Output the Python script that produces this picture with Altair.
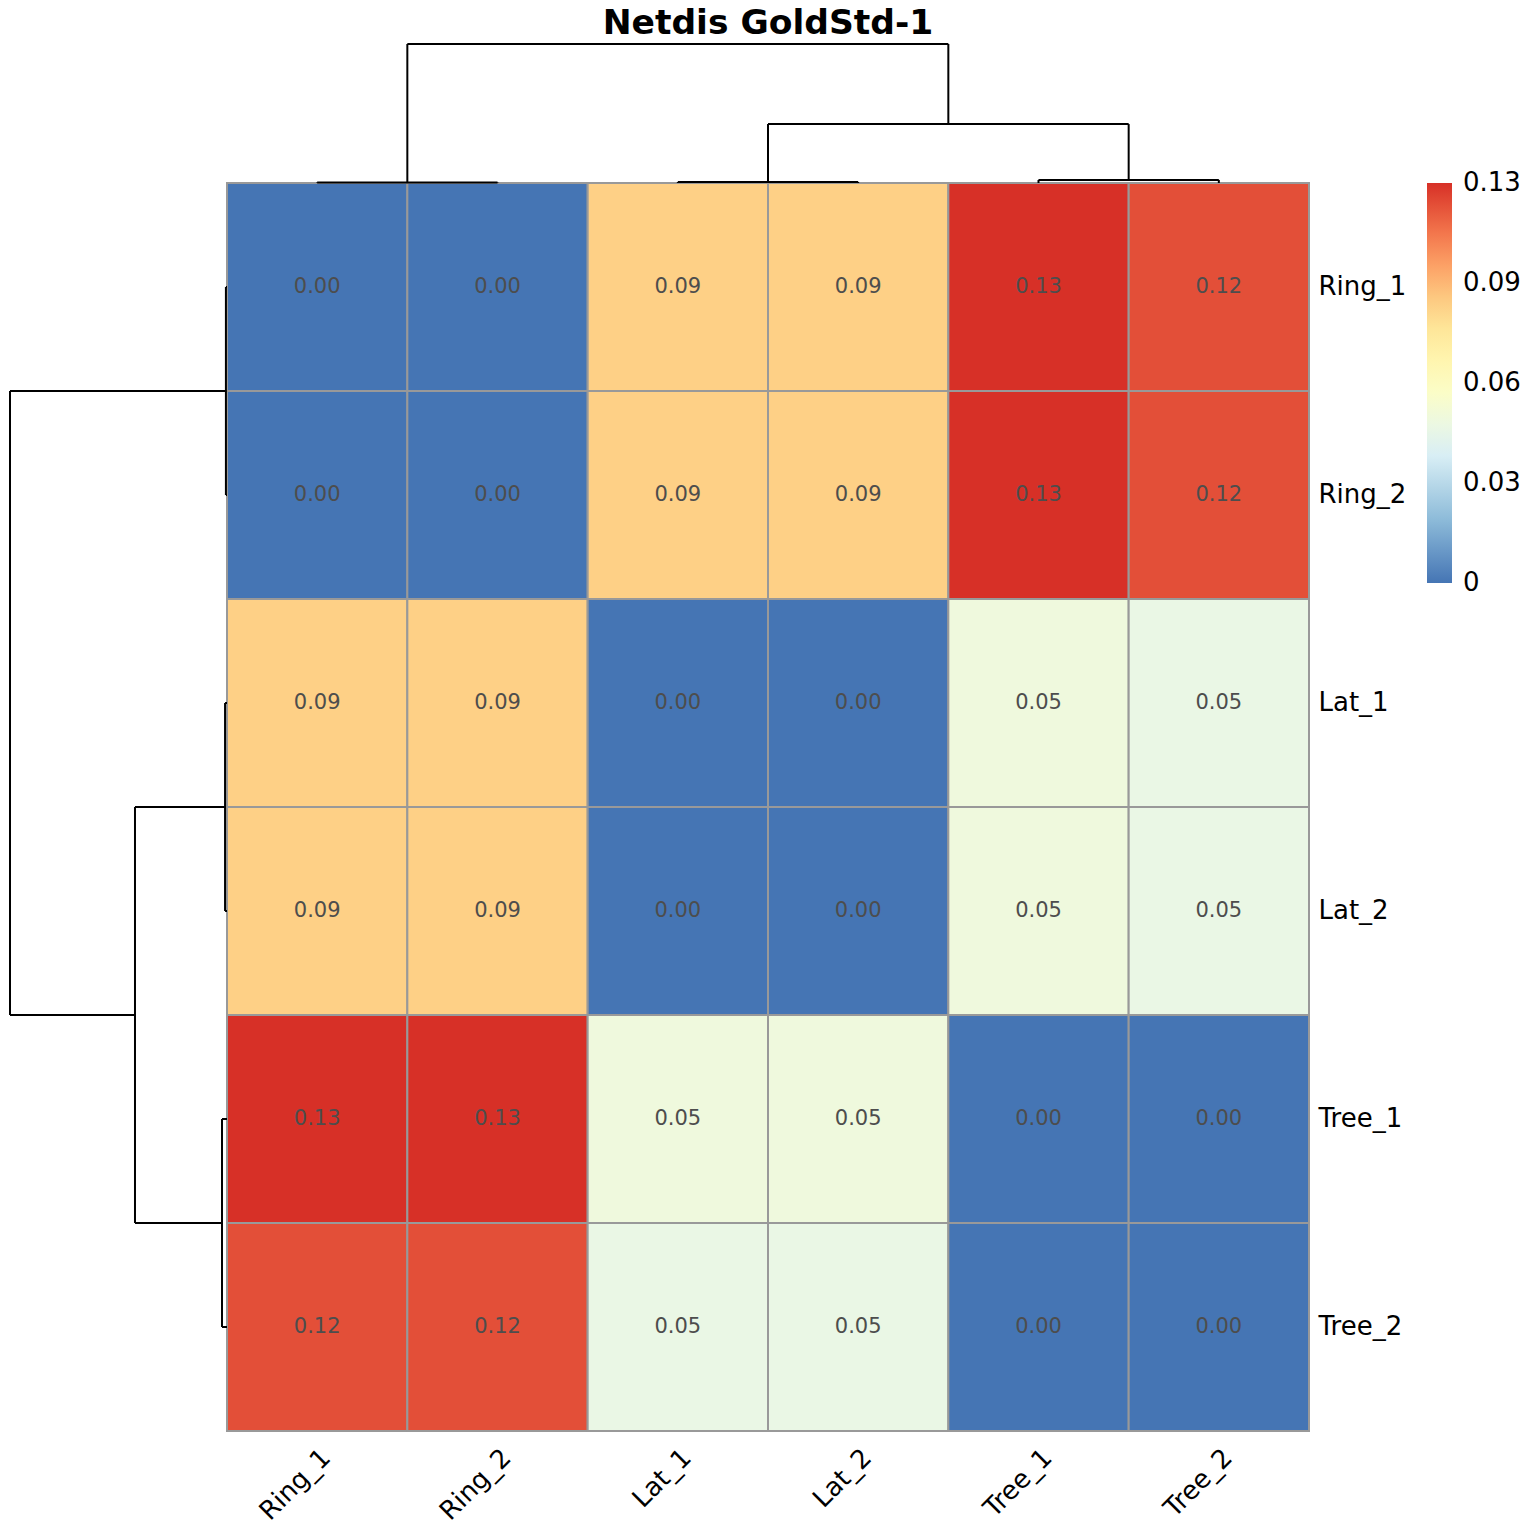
import altair as alt
import pandas as pd

LABELS = ["Ring_1", "Ring_2", "Lat_1", "Lat_2", "Tree_1", "Tree_2"]

ROW_RING_1 = [0.0, 0.0, 0.088, 0.088, 0.126, 0.119]
ROW_RING_2 = [0.0, 0.0, 0.088, 0.088, 0.126, 0.119]
ROW_LAT_1 = [0.088, 0.088, 0.0, 0.0, 0.052, 0.049]
ROW_LAT_2 = [0.088, 0.088, 0.0, 0.0, 0.052, 0.049]
ROW_TREE_1 = [0.126, 0.126, 0.052, 0.052, 0.0, 0.0]
ROW_TREE_2 = [0.119, 0.119, 0.049, 0.049, 0.0, 0.0]
ROWS = [ROW_RING_1, ROW_RING_2, ROW_LAT_1, ROW_LAT_2, ROW_TREE_1, ROW_TREE_2]

# hclust-style merges (negative = leaf index, positive = earlier merge step)
MERGE = [(-1, -2), (-3, -4), (-5, -6), (2, 3), (1, 4)]
COL_HEIGHTS = [0.004, 0.007, 0.022, 0.424, 1.0]
ROW_HEIGHTS = [0.005, 0.009, 0.023, 0.424, 1.0]

LEGEND_TICKS = [0.0, 0.0315, 0.063, 0.0945, 0.126]
LEGEND_LABELS = ["0", "0.03", "0.06", "0.09", "0.13"]
PALETTE = ["#4575B4", "#91BFDB", "#E0F3F8", "#FFFFBF", "#FEE090", "#FC8D59", "#D73027"]

FONT = "DejaVu Sans"
W, H = 1082, 1248
TOP_DENDRO_PX = 139
LEFT_DENDRO_PX = 217
LEGEND_X = 1200
LEGEND_LEN = 400


def dendro_segments(merge, heights):
    pos, hts, segs = {}, {}, []

    def get(ref):
        if ref < 0:
            return (-ref - 1) + 0.5, 0.0
        return pos[ref], hts[ref]

    for k, ((a, b), h) in enumerate(zip(merge, heights), start=1):
        pa, ha = get(a)
        pb, hb = get(b)
        segs.append(dict(p1=pa, p2=pa, h1=ha, h2=h))
        segs.append(dict(p1=pa, p2=pb, h1=h, h2=h))
        segs.append(dict(p1=pb, p2=pb, h1=hb, h2=h))
        pos[k] = (pa + pb) / 2
        hts[k] = h
    return pd.DataFrame(segs)


cells = pd.DataFrame(
    [dict(row=LABELS[i], col=LABELS[j], value=ROWS[i][j])
     for i in range(len(LABELS)) for j in range(len(LABELS))]
)
vmax = max(max(r) for r in ROWS)

xaxis = alt.Axis(orient="bottom", labelAngle=-45, labelAlign="right",
                 labelBaseline="top", labelPadding=13, labelFontSize=26,
                 labelFont=FONT, labelColor="black", domain=False,
                 ticks=False, grid=False, title=None)
yaxis = alt.Axis(orient="right", labelPadding=9, labelFontSize=26,
                 labelFont=FONT, labelColor="black", labelAlign="left",
                 labelBaseline="middle", domain=False, ticks=False,
                 grid=False, title=None)
band = alt.Scale(paddingInner=0, paddingOuter=0)

rects = alt.Chart(cells).mark_rect(stroke="#999999", strokeWidth=2).encode(
    x=alt.X("col:N", sort=LABELS, scale=band, axis=xaxis),
    y=alt.Y("row:N", sort=LABELS, scale=band, axis=yaxis),
    color=alt.Color(
        "value:Q",
        scale=alt.Scale(domain=[0, vmax], range=PALETTE, interpolate="rgb"),
        legend=alt.Legend(
            orient="none", legendX=LEGEND_X, legendY=0, direction="vertical",
            title=None, gradientLength=LEGEND_LEN, gradientThickness=25,
            gradientStrokeWidth=0, labelOpacity=0, labelFontSize=1,
        ),
    ),
)

texts = alt.Chart(cells).mark_text(fontSize=21, font=FONT, color="#4d4d4d").encode(
    x=alt.X("col:N", sort=LABELS, scale=band, axis=xaxis),
    y=alt.Y("row:N", sort=LABELS, scale=band, axis=yaxis),
    text=alt.Text("value:Q", format=".2f"),
)

heat = alt.layer(rects, texts)

top_df = dendro_segments(MERGE, COL_HEIGHTS)
top = alt.Chart(top_df).mark_rule(color="black", strokeWidth=2).encode(
    x=alt.X("p1:Q", axis=None, scale=alt.Scale(domain=[0, 6], range=[0, W], nice=False, zero=False)),
    x2="p2:Q",
    y=alt.Y("h1:Q", axis=None, scale=alt.Scale(domain=[0, 1], range=[0, -TOP_DENDRO_PX], nice=False)),
    y2="h2:Q",
)

left_df = dendro_segments(MERGE, ROW_HEIGHTS)
left = alt.Chart(left_df).mark_rule(color="black", strokeWidth=2).encode(
    y=alt.Y("p1:Q", axis=None, scale=alt.Scale(domain=[0, 6], range=[0, H], nice=False, zero=False)),
    y2="p2:Q",
    x=alt.X("h1:Q", axis=None, scale=alt.Scale(domain=[0, 1], range=[0, -LEFT_DENDRO_PX], nice=False)),
    x2="h2:Q",
)

legend_df = pd.DataFrame({"tick": LEGEND_TICKS, "label": LEGEND_LABELS})
legend_labels = alt.Chart(legend_df).mark_text(
    fontSize=26, font=FONT, color="black", align="left", baseline="middle"
).encode(
    x=alt.value(LEGEND_X + 36),
    y=alt.Y("tick:Q", axis=None,
            scale=alt.Scale(domain=[0, vmax], range=[LEGEND_LEN, 0], nice=False)),
    text="label:N",
)

chart = alt.layer(heat, top, left, legend_labels).resolve_scale(
    x="independent", y="independent"
).properties(
    width=W, height=H,
    title=alt.Title("Netdis GoldStd-1", fontSize=34.5, fontWeight="bold", font=FONT,
                    color="black", anchor="middle", offset=2),
    padding={"left": 1, "top": -3, "right": 5, "bottom": 5},
    background="white",
).configure_view(stroke=None)

chart.save("out.html", embed_options={"renderer": "svg", "actions": False})
